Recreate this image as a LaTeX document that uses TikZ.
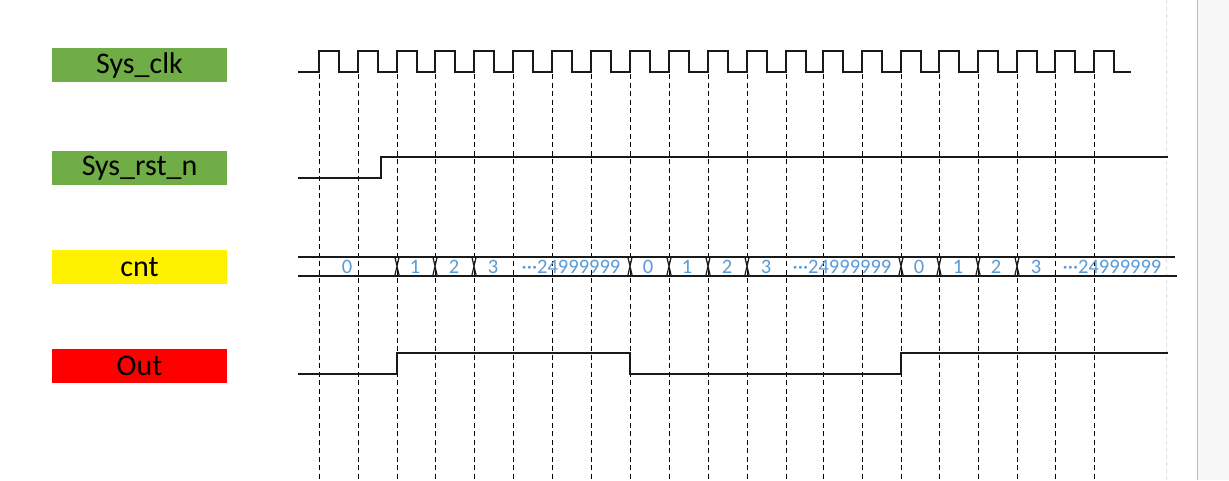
\documentclass[tikz,border=0pt]{standalone}
\usepackage{fontspec}
\setmainfont{Carlito}
\begin{document}
\begin{tikzpicture}[x=1pt,y=-1pt,
  lbl/.style={minimum width=175pt,minimum height=34pt,inner sep=0pt,font=\fontsize{30}{32}\selectfont,text=black},
  sig/.style={draw=black!90,line width=2pt,line join=miter},
  grid/.style={draw=black,line width=1pt,dash pattern=on 5pt off 3.5pt},
  val/.style={text=valblue,font=\fontsize{20.5}{22}\selectfont,inner sep=0pt,anchor=center},
  xcross/.style={draw=black!90,line width=1.2pt}]
\definecolor{valblue}{HTML}{5B9BD5}
\definecolor{lgreen}{HTML}{70AD47}
\useasboundingbox (0,0) rectangle (1229,480);
\fill[white] (0,0) rectangle (1229,480);
% right panel
\fill[black!3] (1197,0) rectangle (1229,480);
\draw[black!25,line width=1pt] (1197,0) -- (1197,480);
\draw[black!12,line width=0.6pt,dash pattern=on 4pt off 3pt] (1166.7,0) -- (1166.7,480);
% labels
\node[lbl,fill=lgreen] (clk) at (139.5,65) {Sys\_clk};
\node[lbl,fill=lgreen] (rst) at (139.5,168) {Sys\_rst\_n};
\node[lbl,fill=yellow] (cnt) at (139.5,267) {cnt};
\node[lbl,fill=red] (out) at (139.5,366) {Out};
% dashed lines at rising edges
\foreach \r in {319,358,397,435,474,513,552,591,630,669,708,747,786,823,862,901,939,978,1017,1055,1094}
  \draw[grid] (\r,74) -- (\r,479);
% clock
\draw[sig] (298,72)
  \foreach \r in {319,358,397,435,474,513,552,591,630,669,708,747,786,823,862,901,939,978,1017,1055,1094}
   { -- (\r,72) -- (\r,51) -- (\r+19.5,51) -- (\r+19.5,72) }
  -- (1131,72);
% reset
\draw[sig] (298,178) -- (381,178) -- (381,156.7) -- (1168,156.7);
% cnt bus
\draw[sig,line width=1.6pt] (298,256.7) -- (1175,256.7);
\draw[sig,line width=1.6pt] (298,275.7) -- (1177,275.7);
\foreach \c in {397,435,474,630,669,708,747,901,939,978,1017}
  \draw[xcross] (\c-2.2,256.7) -- (\c+2.2,275.7) (\c+2.2,256.7) -- (\c-2.2,275.7);
\node[val] (v0) at (347,267) {0};
\node[val] (v1) at (415,267) {1};
\node[val] (v2) at (454,267) {2};
\node[val] (v3) at (493,267) {3};
\node[val] (v4) at (571,267) {···24999999};
\node[val] (v5) at (648,267) {0};
\node[val] (v6) at (687,267) {1};
\node[val] (v7) at (727,267) {2};
\node[val] (v8) at (766,267) {3};
\node[val] (v9) at (842,267) {···24999999};
\node[val] (v10) at (919,267) {0};
\node[val] (v11) at (958,267) {1};
\node[val] (v12) at (996,267) {2};
\node[val] (v13) at (1036,267) {3};
\node[val] (v14) at (1112,267) {···24999999};
% out
\draw[sig] (298,374.3) -- (397,374.3) -- (397,353.3) -- (630,353.3) -- (630,374.3) -- (901,374.3) -- (901,353.3) -- (1168,353.3);
\end{tikzpicture}
\end{document}
